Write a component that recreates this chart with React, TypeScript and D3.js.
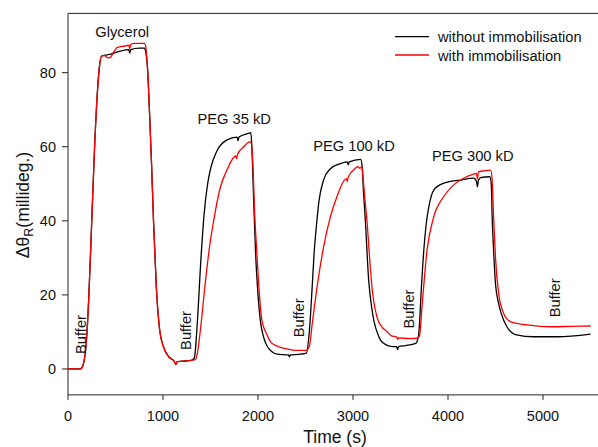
import React from "react";
import * as d3 from "d3";

// ---- data (time in s, signal in millideg.) ----
const timeBlack = [0,130,150,180,200,220,250,280,310,335,355,450,550,640,650,660,750,805,815,840,860,880,900,930,965,1005,1060,1120,1135,1150,1200,1300,1330,1360,1400,1430,1470,1500,1570,1670,1780,1790,1800,1900,1925,1935,1955,1975,2000,2025,2060,2100,2150,2200,2320,2330,2340,2450,2510,2540,2570,2590,2620,2640,2690,2760,2860,2940,2950,2960,3080,3095,3110,3130,3165,3200,3220,3260,3290,3350,3400,3460,3470,3480,3550,3660,3690,3720,3745,3770,3800,3850,3950,4130,4270,4300,4310,4320,4350,4440,4455,4465,4480,4500,4530,4560,4620,4720,4900,5150,5500];
const valBlack = [0,0,0.5,4,10,20,40,60,75,82.5,84.5,85.0,85.8,86.2,85.3,86.2,86.6,86.6,86,80,68,55,40,22,10.5,6,3.3,2.0,1.2,2.0,2.1,2.3,3,12,30,41,50,54,59,61.8,62.6,61.6,62.6,63.6,63.8,60,45,31,20,13,8.5,6,4.6,4.0,3.8,3.3,3.8,4.0,4.3,10,22,31,40,45,51,54,55.4,55.9,55.1,55.9,56.6,55,48,40,24,16,13,9.5,7.8,6.5,6.1,6.0,5.2,6.0,6.3,6.9,9,22,32,39,44,48.3,50.1,51,51.5,50.6,49.2,51.0,51.7,51.9,50,41,32,23,18,15,11.4,9.2,8.7,8.7,9.4];

const timeRed = [0,130,150,180,200,220,250,280,310,335,355,380,420,440,480,520,600,640,650,660,700,805,815,840,860,880,900,930,965,1005,1060,1120,1135,1150,1250,1340,1360,1400,1440,1490,1533,1603,1673,1765,1775,1785,1850,1912,1930,1945,1965,1989,2015,2042,2090,2130,2200,2305,2400,2500,2540,2570,2621,2691,2761,2831,2930,2940,2950,3006,3050,3070,3095,3105,3125,3147,3175,3200,3253,3300,3358,3400,3460,3470,3480,3600,3674,3700,3730,3779,3849,3954,4059,4164,4269,4300,4310,4320,4375,4450,4465,4480,4500,4533,4586,4656,4750,4831,5077,5300,5500];
const valRed = [0,0,0.5,4,10,20,40,60,75,82.5,84.5,84.6,84.0,84.0,85.5,86.8,87.2,87.4,86.5,87.6,87.9,87.9,87.5,80,68,55,40,22,10.5,6,3.3,2.0,1.2,2.0,2.2,2.5,4,12,22,33,40,49,53.7,57.5,56.8,58,60,61.3,61,56,42,31,20,13,9.5,7.4,6.2,5.4,5.0,5.0,6,12,22,33,41,46.5,51.4,50.6,51.8,53.7,54.6,54.2,54.6,52,46,40,30,22,14,11.5,10.1,9,8.6,8.0,8.4,8.2,8.3,9,18,32,41,46.5,49.7,51.5,52.6,52.8,51.3,53.2,53.5,53.7,51,41,30,20.4,15,12.8,12.2,11.9,11.4,11.5,11.6];

const xTicks = [0, 1000, 2000, 3000, 4000, 5000];
const yTicks = [0, 20, 40, 60, 80];

const stepLabels = [
  { text: "Glycerol", t: 570, v: 89.5 },
  { text: "PEG 35 kD", t: 1750, v: 66.2 },
  { text: "PEG 100 kD", t: 3010, v: 58.8 },
  { text: "PEG 300 kD", t: 4260, v: 56.1 },
];
const bufferLabels = [
  { t: 137, v: 9.3 },
  { t: 1242, v: 10.4 },
  { t: 2433, v: 13.8 },
  { t: 3591, v: 16.2 },
  { t: 5118, v: 19.2 },
];
const legendItems = [
  { label: "without immobilisation", color: "#000000" },
  { label: "with immobilisation", color: "#ff0000" },
];

const W = 598, H = 447;
const x = d3.scaleLinear().domain([0, 5600]).range([68, 600]);
const y = d3.scaleLinear().domain([-7, 96]).range([394.9, 13.4]);
const FONT = "'Liberation Sans', Arial, sans-serif";

function pathFor(ts: number[], vs: number[]) {
  const line = d3.line<number>()
    .x((_, i) => x(ts[i]))
    .y((d) => y(d))
    .curve(d3.curveMonotoneX);
  return line(vs) || "";
}

export default function App() {
  const x0 = x.range()[0];
  const yb = y.range()[0];
  const yt = y.range()[1];
  return (
    <svg width={W} height={H} style={{ position: "absolute", left: 0, top: 0, background: "#fff" }}
      fontFamily={FONT}>
      {/* frame */}
      <line x1={x0} x2={602} y1={yt} y2={yt} stroke="#222" strokeWidth={1} />
      <line x1={x0} x2={602} y1={yb} y2={yb} stroke="#222" strokeWidth={1} />
      <line x1={x0} x2={x0} y1={yt} y2={yb} stroke="#222" strokeWidth={1} />
      {/* y ticks */}
      {yTicks.map((t) => (
        <g key={"y" + t}>
          <line x1={x0 - 6} x2={x0} y1={y(t)} y2={y(t)} stroke="#222" strokeWidth={1} />
          <text x={x0 - 12} y={y(t) + 5} textAnchor="end" fontSize={14.5} fill="#111">{t}</text>
        </g>
      ))}
      {/* x ticks */}
      {xTicks.map((t) => (
        <g key={"x" + t}>
          <line x1={x(t)} x2={x(t)} y1={yb} y2={yb + 5} stroke="#222" strokeWidth={1} />
          <text x={x(t)} y={421} textAnchor="middle" fontSize={14.5} fill="#111">{t}</text>
        </g>
      ))}
      <text x={335} y={443} textAnchor="middle" fontSize={17.5} fill="#111">Time (s)</text>
      <text transform="translate(29,205) rotate(-90)" textAnchor="middle" fontSize={17.5} fill="#111">
        Δθ<tspan fontSize={12.5} dy={4}>R</tspan><tspan dy={-4}>(millideg.)</tspan>
      </text>
      {/* series */}
      <path d={pathFor(timeBlack, valBlack)} fill="none" stroke="#000" strokeWidth={1.3} />
      <path d={pathFor(timeRed, valRed)} fill="none" stroke="#ff0000" strokeWidth={1.3} />
      {/* annotations */}
      {stepLabels.map((l) => (
        <text key={l.text} x={x(l.t)} y={y(l.v)} textAnchor="middle" fontSize={14.7} fill="#111">{l.text}</text>
      ))}
      {bufferLabels.map((l, i) => (
        <text key={"b" + i} transform={`translate(${x(l.t) + 5.3},${y(l.v)}) rotate(-90)`}
          textAnchor="middle" fontSize={14.7} fill="#111">Buffer</text>
      ))}
      {/* legend */}
      {legendItems.map((it, i) => (
        <g key={it.label}>
          <line x1={395} x2={429} y1={36.7 + i * 18.3} y2={36.7 + i * 18.3} stroke={it.color} strokeWidth={1.3} />
          <text x={438} y={42.3 + i * 18.3} fontSize={14.7} fill="#111">{it.label}</text>
        </g>
      ))}
    </svg>
  );
}
